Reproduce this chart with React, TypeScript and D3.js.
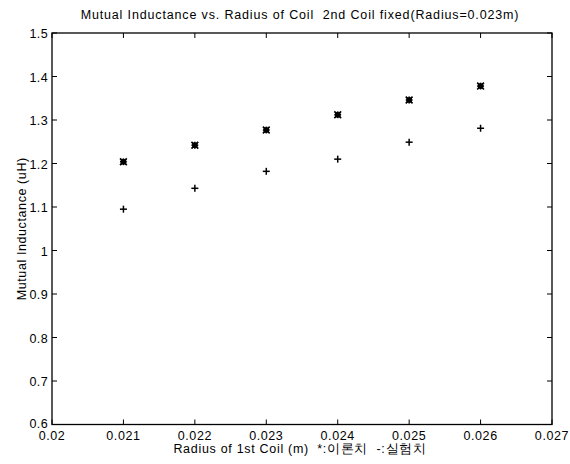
import React from "react";
import * as d3 from "d3";

const radii = [0.021, 0.022, 0.023, 0.024, 0.025, 0.026];
const theory = [1.204, 1.242, 1.277, 1.312, 1.346, 1.378];
const experiment = [1.095, 1.143, 1.182, 1.21, 1.249, 1.281];
const xTicks = [0.02, 0.021, 0.022, 0.023, 0.024, 0.025, 0.026, 0.027];
const yTicks = [0.6, 0.7, 0.8, 0.9, 1, 1.1, 1.2, 1.3, 1.4, 1.5];

export default function App() {
  const W = 570, H = 464;
  const left = 52, right = 552, top = 33, bottom = 424.5;
  const x = d3.scaleLinear().domain([0.02, 0.027]).range([left, right]);
  const y = d3.scaleLinear().domain([0.6, 1.5]).range([bottom, top]);
  const font = "Arial, 'Liberation Sans', Helvetica, sans-serif";
  const tl = 5;
  const fmtY = (v: number) => String(+v.toFixed(1));
  const fmtX = (v: number) => String(+v.toFixed(3));
  return (
    <svg width={W} height={H} style={{ position: "absolute", left: 0, top: 0, background: "#fff" }} fontFamily={font}>
      <rect x={0} y={0} width={W} height={H} fill="#fff" />
      <text x={300} y={19} fontSize={12.5} letterSpacing={0.85} textAnchor="middle" fill="#000" style={{ whiteSpace: "pre" }}>
        {"Mutual Inductance vs. Radius of Coil  2nd Coil fixed(Radius=0.023m)"}
      </text>
      <rect x={left} y={top} width={right - left} height={bottom - top} fill="none" stroke="#000" strokeWidth={1.3} />
      {yTicks.map((v) => (
        <g key={"y" + v}>
          <line x1={left} x2={left + tl} y1={y(v)} y2={y(v)} stroke="#000" />
          <line x1={right} x2={right - tl} y1={y(v)} y2={y(v)} stroke="#000" />
          <text x={left - 4} y={y(v) + (v === 0.6 ? 3 : 5)} fontSize={12.5} letterSpacing={0.4} textAnchor="end" fill="#000">{fmtY(v)}</text>
        </g>
      ))}
      {xTicks.map((v) => (
        <g key={"x" + v}>
          <line x1={x(v)} x2={x(v)} y1={bottom} y2={bottom - tl} stroke="#000" />
          <line x1={x(v)} x2={x(v)} y1={top} y2={top + tl} stroke="#000" />
          <text x={x(v)} y={bottom + 15} fontSize={12.5} letterSpacing={0.6} textAnchor="middle" fill="#000">{fmtX(v)}</text>
        </g>
      ))}
      <text x={300} y={453} fontSize={12.5} letterSpacing={0.7} textAnchor="middle" fill="#000" style={{ whiteSpace: "pre" }}>
        {"Radius of 1st Coil (m)  *:이론치  -:실험치"}
      </text>
      <text transform={`translate(26,${(top + bottom) / 2}) rotate(-90)`} fontSize={12.5} letterSpacing={0.6} textAnchor="middle" fill="#000">
        Mutual Inductance (uH)
      </text>
      {radii.map((r, i) => {
        const cx = x(r), cy = y(theory[i]);
        const s = 3.4;
        return (
          <g key={"t" + i} stroke="#000" strokeWidth={1.6}>
            <line x1={cx - s} x2={cx + s} y1={cy - s} y2={cy + s} />
            <line x1={cx - s} x2={cx + s} y1={cy + s} y2={cy - s} />
            <line x1={cx - s} x2={cx + s} y1={cy} y2={cy} />
            <line x1={cx} x2={cx} y1={cy - s} y2={cy + s} />
            <rect x={cx - 2.7} y={cy - 2.7} width={5.4} height={5.4} fill="#000" strokeWidth={0} />
          </g>
        );
      })}
      {radii.map((r, i) => {
        const cx = x(r), cy = y(experiment[i]);
        const s = 3.5;
        return (
          <g key={"e" + i} stroke="#000" strokeWidth={1.5}>
            <line x1={cx - s} x2={cx + s} y1={cy} y2={cy} />
            <line x1={cx} x2={cx} y1={cy - s} y2={cy + s} />
          </g>
        );
      })}
    </svg>
  );
}
